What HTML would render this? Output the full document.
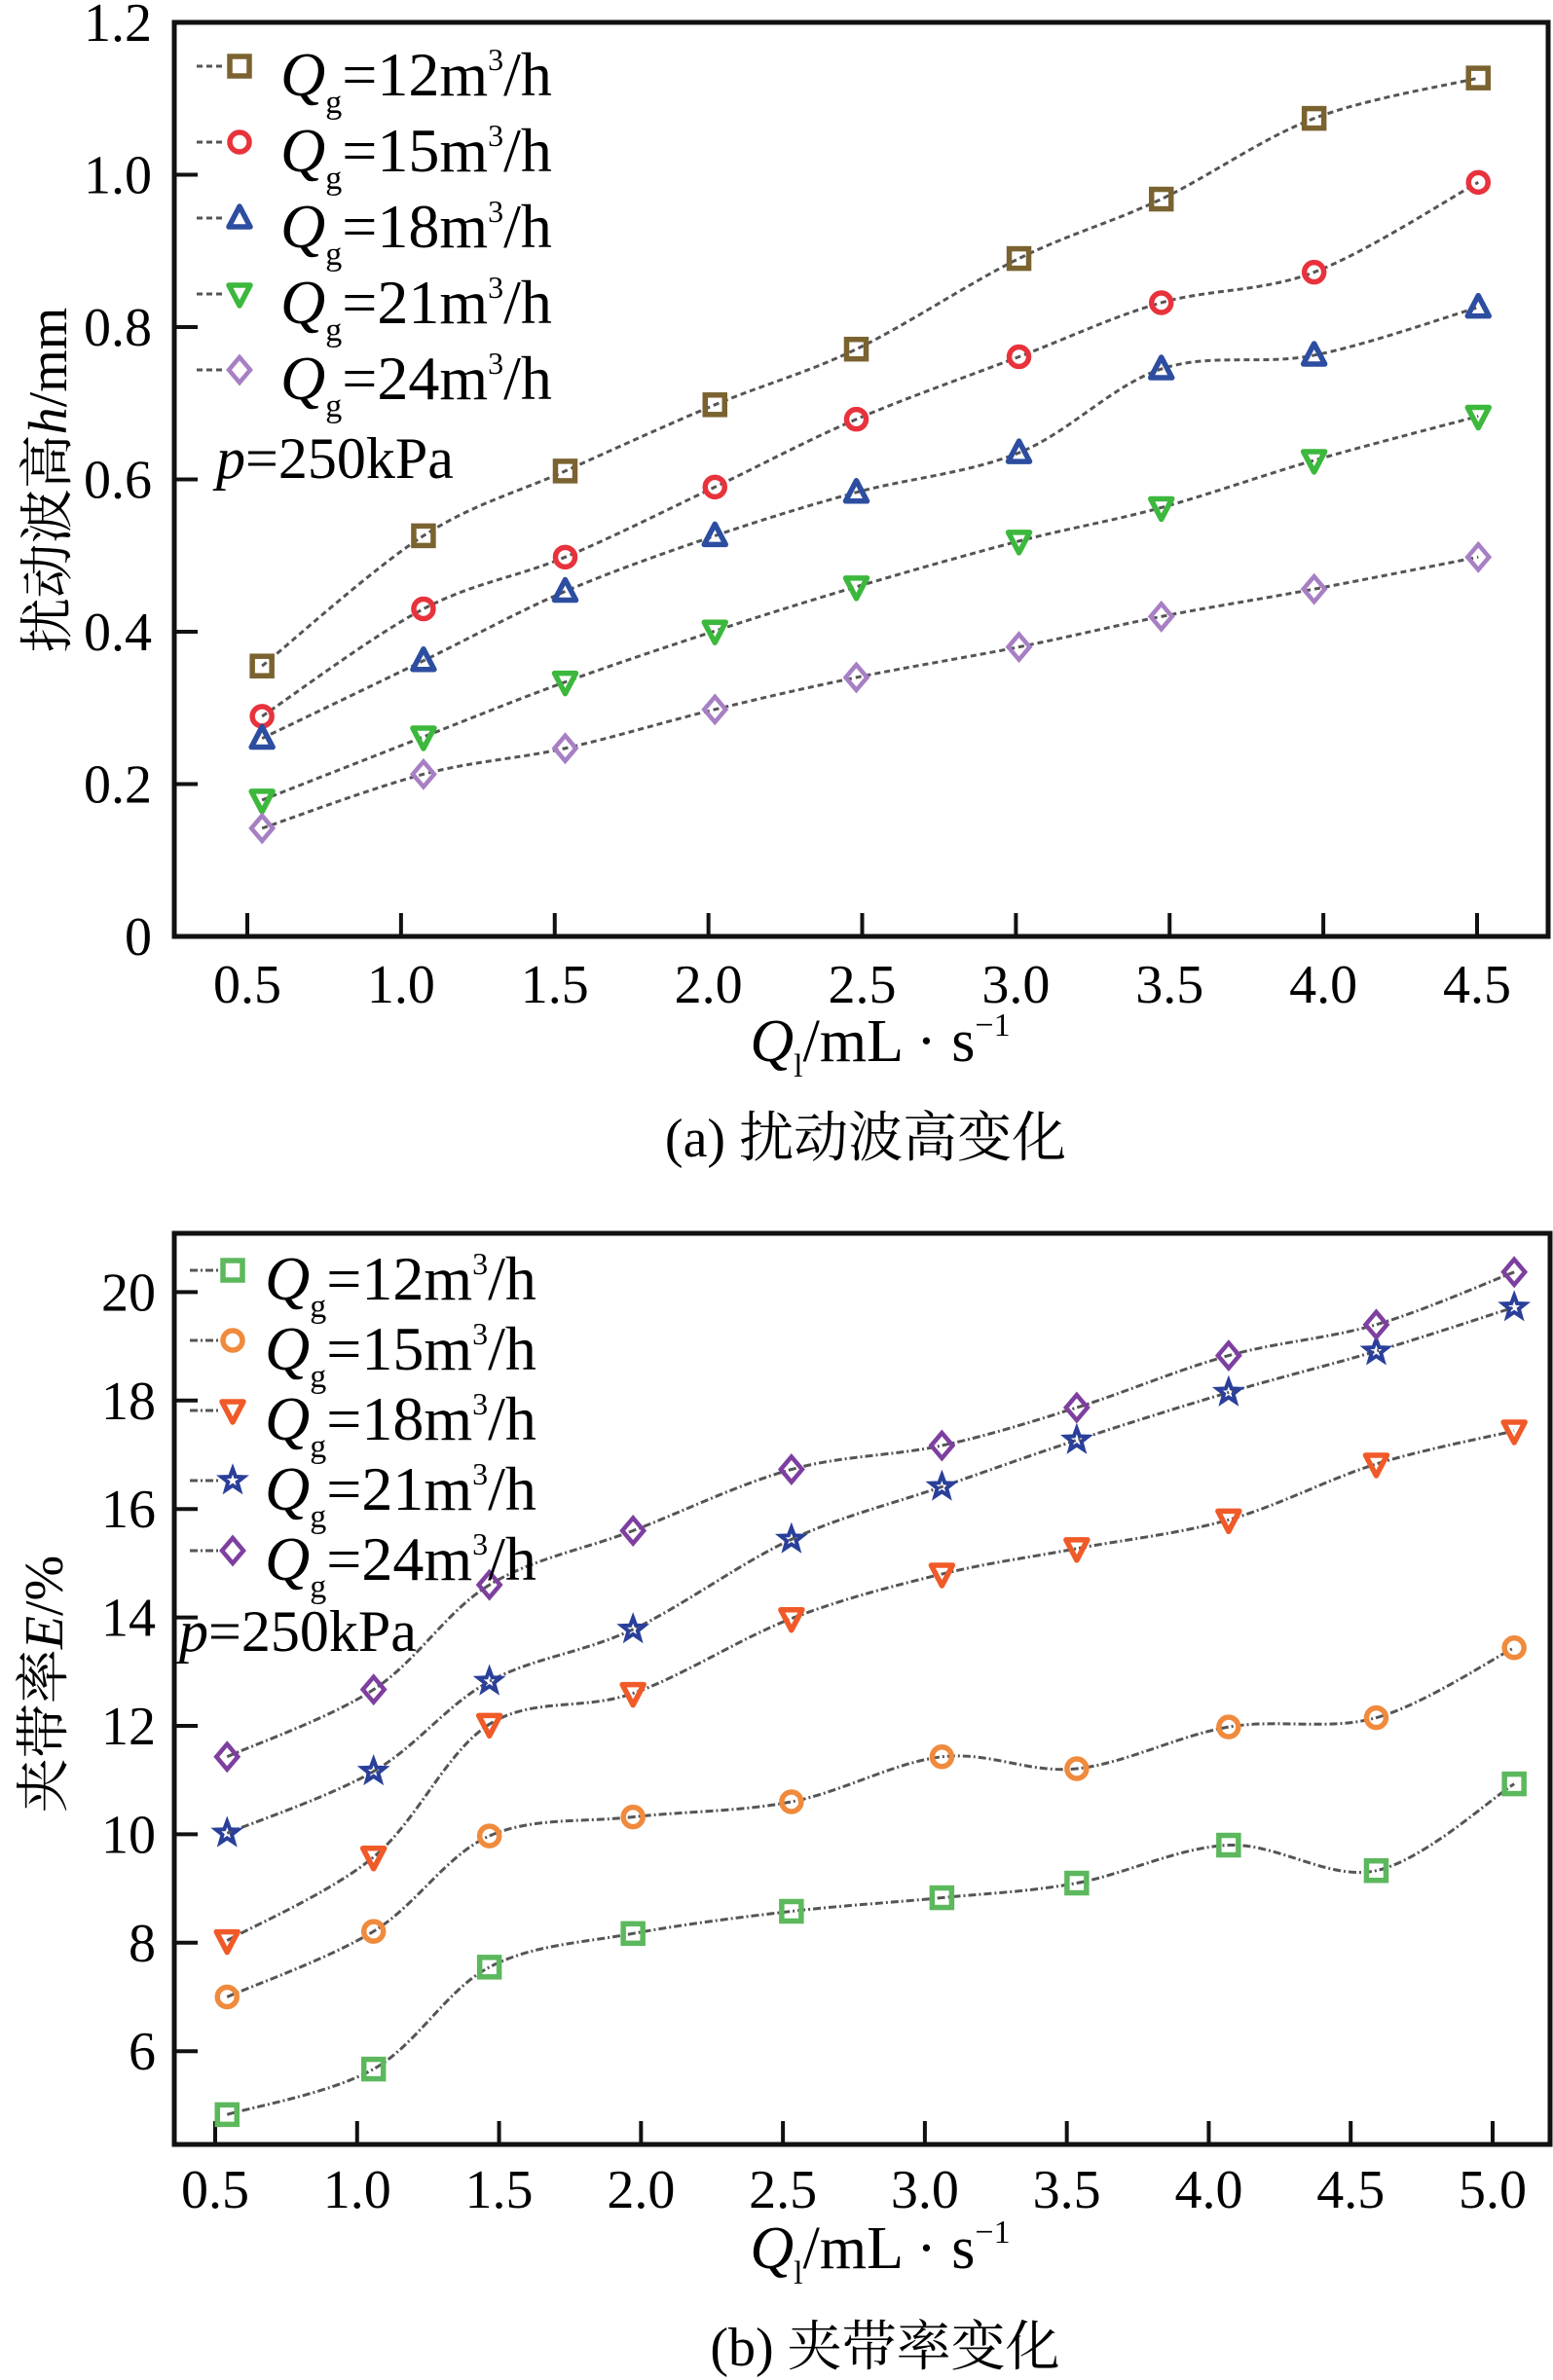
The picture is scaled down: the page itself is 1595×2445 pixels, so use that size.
<!DOCTYPE html>
<html><head><meta charset="utf-8"><style>
html,body{margin:0;padding:0;background:#fff;}
svg{display:block;font-family:"Liberation Serif","Noto Serif CJK SC",serif;}
</style></head><body>
<svg id="fig" width="1595" height="2445" viewBox="0 0 1595 2445" xmlns="http://www.w3.org/2000/svg"></svg>
<script>
// ---- Chart A data ----
const aX = [0.548,1.073,1.534,2.021,2.481,3.01,3.473,3.97,4.504];
const aQ12 = [0.355,0.526,0.611,0.698,0.771,0.890,0.968,1.074,1.127];
const aQ15 = [0.289,0.430,0.498,0.590,0.679,0.761,0.832,0.872,0.990];
const aQ18 = [0.260,0.362,0.453,0.526,0.583,0.635,0.745,0.763,0.826];
const aQ21 = [0.179,0.262,0.334,0.401,0.459,0.519,0.563,0.625,0.683];
const aQ24 = [0.142,0.213,0.247,0.298,0.340,0.380,0.420,0.456,0.498];
const aXTicks = ["0.5","1.0","1.5","2.0","2.5","3.0","3.5","4.0","4.5"];
const aYTicks = ["0","0.2","0.4","0.6","0.8","1.0","1.2"];
const legendLabels = ["12","15","18","21","24"];
// ---- Chart B data ----
const bX = [0.542,1.058,1.466,1.972,2.53,3.06,3.535,4.07,4.59,5.076];
const bQ12 = [4.83,5.67,7.55,8.17,8.58,8.83,9.10,9.80,9.33,10.93];
const bQ15 = [7.0,8.21,9.97,10.32,10.60,11.43,11.21,11.98,12.15,13.44];
const bQ18 = [8.04,9.58,12.03,12.60,13.98,14.80,15.27,15.80,16.83,17.44];
const bQ21 = [10.02,11.16,12.82,13.78,15.44,16.41,17.27,18.15,18.91,19.72];
const bQ24 = [11.43,12.67,14.60,15.60,16.73,17.17,17.87,18.83,19.40,20.37];
const bXTicks = ["0.5","1.0","1.5","2.0","2.5","3.0","3.5","4.0","4.5","5.0"];
const bYTicks = ["6","8","10","12","14","16","18","20"];

const NS="http://www.w3.org/2000/svg";
const svg=document.getElementById('fig');
function mk(tag,attrs,parent){const e=document.createElementNS(NS,tag);for(const k in attrs)e.setAttribute(k,attrs[k]);(parent||svg).appendChild(e);return e;}
function smooth(pts){let d=`M${pts[0][0]},${pts[0][1]}`;for(let i=0;i<pts.length-1;i++){const p0=pts[i-1]||pts[i],p1=pts[i],p2=pts[i+1],p3=pts[i+2]||p2;const c1=[p1[0]+(p2[0]-p0[0])/6,p1[1]+(p2[1]-p0[1])/6],c2=[p2[0]-(p3[0]-p1[0])/6,p2[1]-(p3[1]-p1[1])/6];d+=` C${c1[0]},${c1[1]} ${c2[0]},${c2[1]} ${p2[0]},${p2[1]}`;}return d;}
function marker(g,type,x,y,color){const r=10,sw=5.5;
 if(type==='sq')return mk('rect',{x:x-r,y:y-r,width:2*r,height:2*r,fill:'none',stroke:color,'stroke-width':sw},g);
 if(type==='ci')return mk('circle',{cx:x,cy:y,r:r,fill:'none',stroke:color,'stroke-width':sw},g);
 if(type==='tu')return mk('polygon',{points:`${x},${y-r-2} ${x+r+1},${y+r-1} ${x-r-1},${y+r-1}`,fill:'none',stroke:color,'stroke-width':sw,'stroke-linejoin':'round'},g);
 if(type==='td')return mk('polygon',{points:`${x},${y+r+2} ${x+r+1},${y-r+1} ${x-r-1},${y-r+1}`,fill:'none',stroke:color,'stroke-width':sw,'stroke-linejoin':'round'},g);
 if(type==='di')return mk('polygon',{points:`${x},${y-r-3} ${x+r+1},${y} ${x},${y+r+3} ${x-r-1},${y}`,fill:'none',stroke:color,'stroke-width':4.5},g);
 if(type==='st'){let p=[];for(let i=0;i<10;i++){const a=-Math.PI/2+i*Math.PI/5,rr=i%2?5:12;p.push(`${x+rr*Math.cos(a)},${y+rr*Math.sin(a)}`);}return mk('polygon',{points:p.join(' '),fill:'none',stroke:color,'stroke-width':4},g);}
}
function legendText(g,x,y,n){const t=mk('text',{x:x,y:y,'font-size':64},g);
 const q=mk('tspan',{'font-style':'italic'},t);q.textContent='Q';
 const s=mk('tspan',{'font-size':34,dy:18},t);s.textContent='g';
 const e=mk('tspan',{dy:-18},t);e.textContent='='+n+'m';
 const sup=mk('tspan',{'font-size':32,dy:-26},t);sup.textContent='3';
 const h=mk('tspan',{'font-size':64,dy:26},t);h.textContent='/h';}
function xTitle(g,cx,y){const t=mk('text',{x:cx,y:y,'font-size':62,'text-anchor':'middle'},g);
 const q=mk('tspan',{'font-style':'italic'},t);q.textContent='Q';
 const s=mk('tspan',{'font-size':34,dy:16},t);s.textContent='l';
 const m=mk('tspan',{dy:-16},t);m.textContent='/mL · s';
 const sup=mk('tspan',{'font-size':34,dy:-26},t);sup.textContent='−1';}

function chart(o){
 const g=mk('g',{});
 const X=v=>o.L+(v-o.x0)*o.xs, Y=v=>o.B-(v-o.y0)*o.ys;
 o.xt.forEach(s=>{const x=X(parseFloat(s));mk('line',{x1:x,y1:o.B,x2:x,y2:o.B-24,stroke:'#111','stroke-width':4},g);
  const t=mk('text',{x:x,y:o.xlY,'font-size':56,'text-anchor':'middle'},g);t.textContent=s;});
 o.yt.forEach(s=>{const y=Y(parseFloat(s));mk('line',{x1:o.Lb,y1:y,x2:o.Lb+24,y2:y,stroke:'#111','stroke-width':4},g);
  const t=mk('text',{x:o.ylX,y:y+19,'font-size':56,'text-anchor':'end'},g);t.textContent=s;});
 o.series.forEach((sr,i)=>{const sg=mk('g',{},g);
  const pts=o.xv.map((x,j)=>[X(x),Y(sr.v[j])]);
  mk('path',{d:smooth(pts),fill:'none',stroke:'#555','stroke-width':3,'stroke-dasharray':o.dash},sg);
  pts.forEach(p=>{const m=marker(sg,sr.m,p[0],p[1],sr.c);});
  const lg=mk('g',{},g);
  const ly=o.legY+i*o.legDy;
  mk('line',{x1:o.legMx-44,y1:ly,x2:o.legMx-14,y2:ly,stroke:'#555','stroke-width':3,'stroke-dasharray':o.dash},lg);
  marker(lg,sr.m,o.legMx,ly,sr.c);
  legendText(lg,o.legTx,ly+30,legendLabels[i]);});
 mk('rect',{x:o.Lb,y:o.T,width:o.R-o.Lb,height:o.B-o.T,fill:'none',stroke:'#111','stroke-width':5},g);
 const p=mk('text',{x:o.pX,y:o.pY,'font-size':60},g);
 const pi=mk('tspan',{'font-style':'italic'},p);pi.textContent='p';const pr=mk('tspan',{},p);pr.textContent='=250kPa';
 const yt=mk('text',{x:0,y:0,'font-size':56,'text-anchor':'middle',transform:`translate(${o.ytX},${o.ytY}) rotate(-90)`},g);
 const a=mk('tspan',{},yt);a.textContent=o.ytA;const b=mk('tspan',{'font-style':'italic'},yt);b.textContent=o.ytV;const c=mk('tspan',{},yt);c.textContent=o.ytU;
 const xg=mk('g',{},g);xTitle(xg,o.xtX,o.xtY);
 const cap=mk('text',{x:o.capX,y:o.capY,'font-size':56,'text-anchor':'middle'},g);cap.textContent=o.cap;
}
chart({name:'chart-a',Lb:179,R:1590,T:23,B:962,L:254,x0:0.5,xs:(1517-254)/4,y0:0,ys:(962-23)/1.2,
 xt:aXTicks,yt:aYTicks,xlY:1030,ylX:156,xv:aX,dash:'6 4',
 series:[{v:aQ12,m:'sq',c:'#7a6330'},{v:aQ15,m:'ci',c:'#e8323c'},{v:aQ18,m:'tu',c:'#2d4ea0'},{v:aQ21,m:'td',c:'#3cb83c'},{v:aQ24,m:'di',c:'#a77fc4'}],
 legY:68,legDy:78,legMx:246,legTx:288,pX:222,pY:491,ytX:68,ytY:493,ytA:'扰动波高',ytV:'h',ytU:'/mm',xtX:904,xtY:1090,capX:889,capY:1188,cap:'(a) 扰动波高变化'});
chart({name:'chart-b',Lb:179,R:1592,T:1267,B:2203,L:221,x0:0.5,xs:(1533-221)/4.5,y0:4.28,ys:55.7,
 xt:bXTicks,yt:bYTicks,xlY:2268,ylX:160,xv:bX,dash:'8 3 2 3',
 series:[{v:bQ12,m:'sq',c:'#5cb85c'},{v:bQ15,m:'ci',c:'#f08a3c'},{v:bQ18,m:'td',c:'#f05a28'},{v:bQ21,m:'st',c:'#2a3f9a'},{v:bQ24,m:'di',c:'#7e3fa0'}],
 legY:1305,legDy:72,legMx:239,legTx:272,pX:184,pY:1696,ytX:64,ytY:1730,ytA:'夹带率',ytV:'E',ytU:'/%',xtX:904,xtY:2330,capX:909,capY:2430,cap:'(b) 夹带率变化'});
</script>
</body></html>
